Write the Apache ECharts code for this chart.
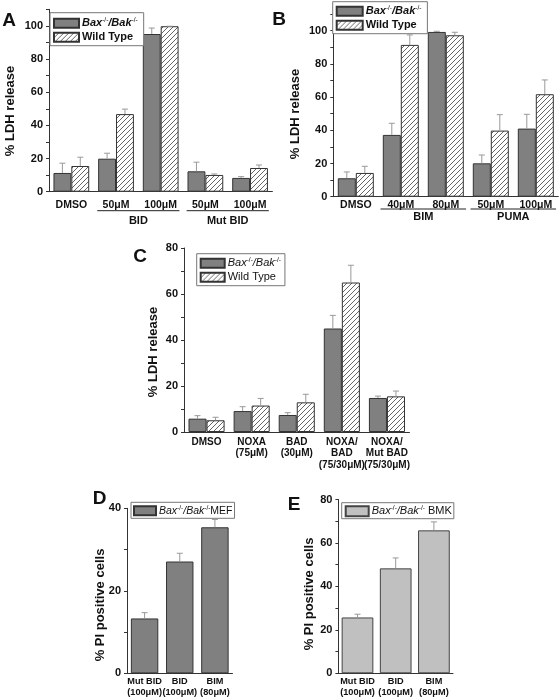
<!DOCTYPE html>
<html><head><meta charset="utf-8">
<script src="https://cdn.jsdelivr.net/npm/echarts@6/dist/echarts.min.js"></script>
<style>html,body{margin:0;padding:0;background:#fff}#c{width:560px;height:700px}</style>
</head><body><div id="c"></div>
<script>
// ---------- data ----------
const catsA = ['DMSO', '50μM', '100μM', '50μM', '100μM'];
const groupNamesA = ['BID', 'Mut BID'];
const groupSpansA = [[1, 2], [3, 4]];
const baxA = [11.3, 19.9, 95.1, 12.3, 8.3];
const baxErrA = [5.9, 3.3, 3.6, 5.5, 0.8];
const wtA = [15.5, 46.8, 99.8, 10.1, 14.3];
const wtErrA = [5.3, 3.0, 0, 0.6, 1.8];

const catsB = ['DMSO', '40μM', '80μM', '50μM', '100μM'];
const groupNamesB = ['BIM', 'PUMA'];
const groupSpansB = [[1, 2], [3, 4]];
const baxB = [11.1, 37.2, 99.2, 20.1, 41.0];
const baxErrB = [3.8, 7.0, 0.4, 5.0, 8.6];
const wtB = [14.3, 91.4, 97.2, 39.8, 61.7];
const wtErrB = [4.0, 6.0, 1.8, 9.6, 8.6];

const catsC = ['DMSO', 'NOXA\n(75μM)', 'BAD\n(30μM)', 'NOXA/\nBAD\n(75/30μM)', 'NOXA/\nMut BAD\n(75/30μM)'];
const baxC = [5.8, 9.1, 7.4, 45.0, 14.8];
const baxErrC = [1.3, 1.9, 1.0, 5.7, 0.8];
const wtC = [5.1, 11.5, 12.9, 65.0, 15.5];
const wtErrC = [1.3, 3.1, 3.5, 7.5, 2.3];

const catsD = ['Mut BID\n(100μM)', 'BID\n(100μM)', 'BIM\n(80μM)'];
const valsD = [13.3, 27.1, 35.4];
const errD = [1.4, 2.0, 1.9];

const catsE = ['Mut BID\n(100μM)', 'BID\n(100μM)', 'BIM\n(80μM)'];
const valsE = [25.7, 48.3, 65.8];
const errE = [1.5, 4.8, 3.9];

const labelsAB = [0, 20, 40, 60, 80, 100];
const ticksAB = [0, 10, 20, 30, 40, 50, 60, 70, 80, 90, 100, 110];
const labelsC = [0, 20, 40, 60, 80];
const ticksC = [0, 10, 20, 30, 40, 50, 60, 70, 80];
const labelsD = [0, 20, 40];
const ticksD = [0, 10, 20, 30, 40];
const labelsE = [0, 20, 40, 60, 80];
const ticksE = [0, 10, 20, 30, 40, 50, 60, 70, 80];

// ---------- styling ----------
const FF = '"Liberation Sans", Arial, sans-serif';
const AX = '#333';
const hatch = document.createElement('canvas');
hatch.width = 5; hatch.height = 5;
(function () {
  const g = hatch.getContext('2d');
  g.fillStyle = '#fff'; g.fillRect(0, 0, 5, 5);
  g.strokeStyle = '#666'; g.lineWidth = 1;
  g.beginPath();
  g.moveTo(-1, 6); g.lineTo(6, -1);
  g.stroke();
})();
const hatchFill = { image: hatch, repeat: 'repeat' };

const grids = [
  { left: 49, top: 9.3, width: 223.4, height: 182.4 },
  { left: 333.3, top: 14, width: 225, height: 182.7 },
  { left: 184, top: 248, width: 225.5, height: 184 },
  { left: 127, top: 508.3, width: 105.5, height: 165 },
  { left: 338.4, top: 499.5, width: 114.6, height: 173.8 }
];

function xAx(gi, cats, margin, fs, lh) {
  return {
    type: 'category', gridIndex: gi, data: cats,
    axisTick: { show: false },
    axisLine: { lineStyle: { color: AX, width: 1 } },
    axisLabel: { interval: 0, margin: margin, fontFamily: FF, fontWeight: 'bold', fontSize: fs, lineHeight: lh, color: '#111' }
  };
}
function yAx(gi, max, labels, ticks) {
  return {
    type: 'value', gridIndex: gi, min: 0, max: max,
    splitLine: { show: false },
    axisLine: { show: true, lineStyle: { color: AX, width: 1 } },
    axisTick: { show: true, inside: false, length: 3, customValues: ticks, lineStyle: { color: AX } },
    axisLabel: { customValues: labels, margin: 6, fontFamily: FF, fontWeight: 'bold', fontSize: 11, color: '#111' }
  };
}
function barSeries(gi, name, data, fill, gap, border) {
  return {
    type: 'bar', name: name, xAxisIndex: gi, yAxisIndex: gi, data: data,
    barGap: '0%', barCategoryGap: gap, silent: true,
    itemStyle: { color: fill, borderColor: border || '#333', borderWidth: 1 }
  };
}
function errSeries(gi, vals, errs, offset) {
  return {
    type: 'custom', xAxisIndex: gi, yAxisIndex: gi, silent: true, z: 3,
    data: vals.map((v, i) => [i, v, v + errs[i]]),
    renderItem: function (params, api) {
      const band = api.size([1, 0])[0];
      const p0 = api.coord([api.value(0), api.value(1)]);
      const p1 = api.coord([api.value(0), api.value(2)]);
      const x = p0[0] + offset * band;
      return {
        type: 'group', children: [
          { type: 'line', shape: { x1: x, y1: p0[1], x2: x, y2: p1[1] }, style: { stroke: '#999', lineWidth: 1 } },
          { type: 'line', shape: { x1: x - 3, y1: p1[1], x2: x + 3, y2: p1[1] }, style: { stroke: '#999', lineWidth: 1 } }
        ]
      };
    }
  };
}
function groupSeries(gi, spans, names, lineDy, textDy, ext) {
  return {
    type: 'custom', xAxisIndex: gi, yAxisIndex: gi, silent: true, clip: false, z: 5,
    data: spans.map(s => [s[0], 0, s[1]]),
    renderItem: function (params, api) {
      const band = api.size([1, 0])[0];
      const a = api.coord([api.value(0), 0]);
      const b = api.coord([api.value(2), 0]);
      const y = a[1];
      return {
        type: 'group', children: [
          { type: 'line', shape: { x1: a[0] - ext * band, y1: y + lineDy, x2: b[0] + ext * band, y2: y + lineDy }, style: { stroke: '#222', lineWidth: 1 } },
          { type: 'text', x: (a[0] + b[0]) / 2, y: y + textDy, style: { text: names[params.dataIndex], font: 'bold 11px ' + FF, fill: '#111', align: 'center', verticalAlign: 'middle' } }
        ]
      };
    }
  };
}

const N_BAX = 'Bax-/-/Bak-/-';
const N_WT = 'Wild Type';
const N_D = 'Bax-/-/Bak-/-MEF';
const N_E = 'Bax-/-/Bak-/- BMK';

function legendCfg(left, top, names, bold, fs, iw, ih, pad) {
  const w = bold ? 'bold' : 'normal';
  return {
    orient: 'vertical', left: left, top: top, data: names, icon: 'rect',
    itemWidth: iw, itemHeight: ih, itemGap: 1, padding: pad,
    borderColor: '#777', borderWidth: 1, backgroundColor: '#fff', selectedMode: false,
    formatter: function (n) {
      if (n === N_BAX) return '{i|Bax}{s|-/-}{i|/Bak}{s|-/-}';
      if (n === N_D) return '{i|Bax}{s|-/-}{i|/Bak}{s|-/-}{n|MEF}';
      if (n === N_E) return '{i|Bax}{s|-/-}{i|/Bak}{s|-/-}{n| BMK}';
      return n;
    },
    textStyle: {
      fontFamily: FF, fontWeight: w, fontSize: fs, color: '#111', lineHeight: 13, padding: [0, 0, 0, -2],
      rich: {
        i: { fontFamily: FF, fontWeight: w, fontStyle: 'italic', fontSize: fs, color: '#111', lineHeight: 13 },
        s: { fontFamily: FF, fontWeight: 'normal', fontSize: 6.5, color: '#111', lineHeight: 8, verticalAlign: 'top' },
        n: { fontFamily: FF, fontWeight: w, fontSize: fs, color: '#111', lineHeight: 13 }
      }
    }
  };
}

function txt(x, y, s, font, rot) {
  return { type: 'text', x: x, y: y, rotation: rot || 0, silent: true,
    style: { text: s, font: font, fill: '#111', align: 'center', verticalAlign: 'middle' } };
}

const option = {
  animation: false,
  backgroundColor: '#fff',
  grid: grids,
  xAxis: [xAx(0, catsA, 8, 10.5, 11.5), xAx(1, catsB, 3, 10.5, 11.5), xAx(2, catsC, 4, 10, 11.5), xAx(3, catsD, 3, 9.2, 11), xAx(4, catsE, 3, 9.2, 11)],
  yAxis: [yAx(0, 110, labelsAB, ticksAB), yAx(1, 110, labelsAB, ticksAB), yAx(2, 80, labelsC, ticksC), yAx(3, 40, labelsD, ticksD), yAx(4, 80, labelsE, ticksE)],
  legend: [
    legendCfg(50, 12.7, [N_BAX, N_WT], true, 11, 25, 9, [4, 6, 2, 3]),
    legendCfg(332.7, 1.7, [N_BAX, N_WT], true, 11, 26, 9, [3, 6, 2, 3]),
    legendCfg(196.7, 253.7, [N_BAX, N_WT], false, 11, 24, 9, [3, 4, 2, 3]),
    legendCfg(131, 502.3, [N_D], false, 10.5, 22, 9, [2, 2, 1, 2]),
    legendCfg(341.7, 502.7, [N_E], false, 11, 23, 10, [2, 2, 1, 3])
  ],
  series: [
    barSeries(0, N_BAX, baxA, '#808080', '20%'),
    barSeries(0, N_WT, wtA, hatchFill, '20%'),
    errSeries(0, baxA, baxErrA, -0.2),
    errSeries(0, wtA, wtErrA, 0.2),
    groupSeries(0, groupSpansA, groupNamesA, 19, 29.5, 0.42),

    barSeries(1, N_BAX, baxB, '#808080', '20%'),
    barSeries(1, N_WT, wtB, hatchFill, '20%'),
    errSeries(1, baxB, baxErrB, -0.2),
    errSeries(1, wtB, wtErrB, 0.2),
    groupSeries(1, groupSpansB, groupNamesB, 12.3, 20, 0.45),

    barSeries(2, N_BAX, baxC, '#808080', '20%'),
    barSeries(2, N_WT, wtC, hatchFill, '20%'),
    errSeries(2, baxC, baxErrC, -0.2),
    errSeries(2, wtC, wtErrC, 0.2),

    barSeries(3, N_D, valsD, '#808080', '22%'),
    errSeries(3, valsD, errD, 0),

    barSeries(4, N_E, valsE, '#c0c0c0', '17%', '#444'),
    errSeries(4, valsE, errE, 0)
  ],
  graphic: [
    txt(9, 21, 'A', 'bold 19px ' + FF),
    txt(279, 20, 'B', 'bold 19px ' + FF),
    txt(140, 257, 'C', 'bold 19px ' + FF),
    txt(99.5, 498.5, 'D', 'bold 19px ' + FF),
    txt(294, 505, 'E', 'bold 19px ' + FF),
    txt(10, 111, '% LDH release', 'bold 13px ' + FF, Math.PI / 2),
    txt(295, 114, '% LDH release', 'bold 13px ' + FF, Math.PI / 2),
    txt(153, 352, '% LDH release', 'bold 13px ' + FF, Math.PI / 2),
    txt(100, 605, '% PI positive cells', 'bold 13px ' + FF, Math.PI / 2),
    txt(309, 594, '% PI positive cells', 'bold 13px ' + FF, Math.PI / 2)
  ]
};
const chart = echarts.init(document.getElementById('c'), null, { renderer: 'canvas' });
chart.setOption(option);
</script></body></html>
